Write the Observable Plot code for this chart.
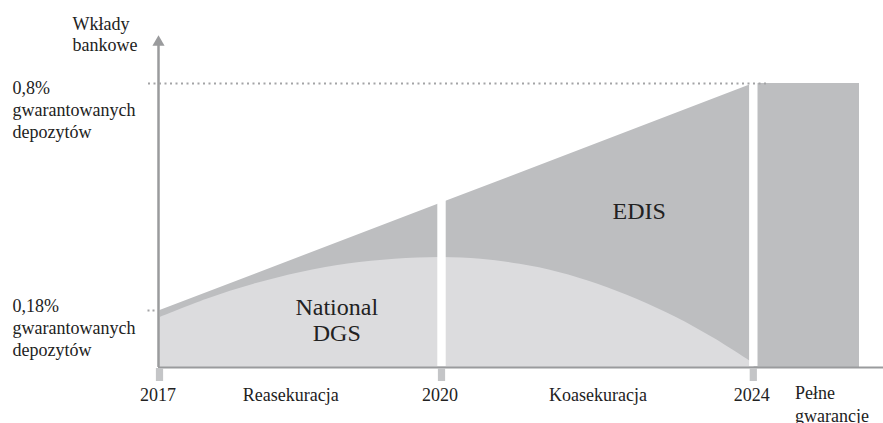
<!DOCTYPE html>
<html>
<head>
<meta charset="utf-8">
<script src="https://cdn.jsdelivr.net/npm/d3@7"></script>
<script src="https://cdn.jsdelivr.net/npm/@observablehq/plot@0.6"></script>
<style>
  html, body { margin: 0; padding: 0; background: #fff; }
  #chart svg { display: block; }
</style>
</head>
<body>
<div id="chart"></div>
<script>
// ---- data (schematic chart) ----
const milestoneYears = [2017, 2020, 2024];          // x-axis years
const milestoneLabels = ["2017", "2020", "2024"];
const fullStart = 2024, fullEnd = 2025;             // "Pełne gwarancje" block
const edisTop = [0.18, 0.474, 0.8];                 // total guarantee level (% of deposits)
const dgsYears = [2017, 2017.5, 2018, 2018.5, 2019, 2019.5, 2020, 2020.5, 2021, 2021.5, 2022, 2022.5, 2023, 2023.5, 2024];
const dgsValues = [0.158, 0.211, 0.252, 0.284, 0.307, 0.320, 0.325, 0.320, 0.306, 0.284, 0.252, 0.211, 0.159, 0.091, 0.013];
const gapYears = [2020, 2024];
const levels = [0.8, 0.18];
const levelLabels = ["0,8%\ngwarantowanych\ndepozytów", "0,18%\ngwarantowanych\ndepozytów"];
const phaseLabels = ["Reasekuracja", "Koasekuracja"];
const phaseYears = [2018.39, 2022];
const fullLabel = "Pełne\ngwarancje";
const fullLabelYear = 2024.39;
const yAxisLabel = "Wkłady\nbankowe";
const yArrowTop = 0.91;
const edisLabel = "EDIS", edisLabelYear = 2022.53, edisLabelValue = 0.43;
const dgsLabel = "National\nDGS", dgsLabelYear = 2018.88;

// ---- tables built from the arrays ----
const edisData = milestoneYears.map((x, i) => ({x, y: edisTop[i]}));
const dgsData = dgsYears.map((x, i) => ({x, y: dgsValues[i]}));

const DARK = "#bdbec0", LIGHT = "#dcdcde", AXIS = "#9a9b9d", TICK = "#c4c5c7", DOT = "#a3a4a6", TEXT = "#222222";
const FONT = "Liberation Serif";
const T = {fontFamily: FONT, fill: TEXT, fontSize: 18};

const chart = Plot.plot({
  width: 883,
  height: 423,
  marginLeft: 158,
  marginRight: 0,
  marginTop: 0,
  marginBottom: 56,
  x: {type: "linear", domain: [2017, 2020, 2024, 2025], range: [159.5, 441.5, 753.3, 859], axis: null},
  y: {type: "linear", domain: [0, 0.18, 0.8], range: [367, 310, 83], axis: null},
  style: {fontFamily: FONT, background: "#fff"},
  marks: [
    // EDIS (total) area
    Plot.areaY(edisData, {x: "x", y1: 0, y2: "y", fill: DARK}),
    // full guarantee block
    Plot.rect([fullStart], {x1: d => d, x2: () => fullEnd, y1: 0, y2: 0.8, fill: DARK}),
    // national DGS area
    Plot.areaY(dgsData, {x: "x", y1: 0, y2: "y", fill: LIGHT, curve: "catmull-rom"}),
    // white separating gaps
    Plot.rect(gapYears, {x1: d => d, x2: d => d, y1: 0, y2: 0.8, insetLeft: -4.2, insetRight: -4.2, insetTop: -3, insetBottom: 1, fill: "#fff"}),
    // baseline
    Plot.ruleY([0], {stroke: AXIS, strokeWidth: 2}),
    // ticks below baseline
    Plot.rect(milestoneYears, {x1: d => d, x2: d => d, y1: 0, y2: 0, insetLeft: -3.6, insetRight: -3.6, insetTop: 1, insetBottom: -14, fill: TICK}),
    // y axis with arrow
    Plot.ruleX([2017], {y1: 0, y2: yArrowTop, stroke: AXIS, strokeWidth: 2.5, dx: -1.5}),
    Plot.dot([2017], {x: d => d, y: yArrowTop, symbol: "triangle", r: 4.5, fill: AXIS, stroke: "none", dx: -1.5, dy: -1}),
    // dotted guides
    Plot.ruleY([levels[0]], {x1: 2017, x2: 2024, insetLeft: -11.5, insetRight: -14.5, stroke: DOT, strokeWidth: 2, strokeDasharray: "2,3.5"}),
    Plot.ruleY([levels[1]], {x1: 2017, x2: 2017.001, insetLeft: -12, insetRight: 2.5, stroke: DOT, strokeWidth: 2, strokeDasharray: "2,3"}),
    // level labels
    Plot.text([levelLabels[0]], {x: 2017, y: levels[0], text: d => d, textAnchor: "start", lineAnchor: "bottom", lineHeight: 1.2, dx: -147.5, dy: 54, ...T}),
    Plot.text([levelLabels[1]], {x: 2017, y: levels[1], text: d => d, textAnchor: "start", lineAnchor: "bottom", lineHeight: 1.2, dx: -147.5, dy: 45, ...T}),
    // y axis label
    Plot.text([yAxisLabel], {x: 2017, y: 0.8, text: d => d, textAnchor: "start", lineAnchor: "bottom", lineHeight: 1.12, dx: -87.5, dy: -33, ...T}),
    // milestone year labels
    Plot.text(milestoneYears, {x: d => d, y: 0, text: (d, i) => milestoneLabels[i], lineAnchor: "bottom", dy: 33, dx: -2, ...T}),
    // phase labels
    Plot.text(phaseYears, {x: d => d, y: 0, text: (d, i) => phaseLabels[i], lineAnchor: "bottom", dy: 33, ...T}),
    Plot.text([fullLabel], {x: fullLabelYear, y: 0, text: d => d, textAnchor: "start", lineAnchor: "bottom", lineHeight: 1.25, dy: 54, ...T}),
    // area labels
    Plot.text([edisLabel], {x: edisLabelYear, y: edisLabelValue, text: d => d, lineAnchor: "bottom", ...T, fontSize: 24}),
    Plot.text([dgsLabel], {x: dgsLabelYear, y: 0.18, text: d => d, lineAnchor: "bottom", lineHeight: 1.05, dy: 30, ...T, fontSize: 24})
  ]
});

document.getElementById("chart").append(chart);
</script>
</body>
</html>
